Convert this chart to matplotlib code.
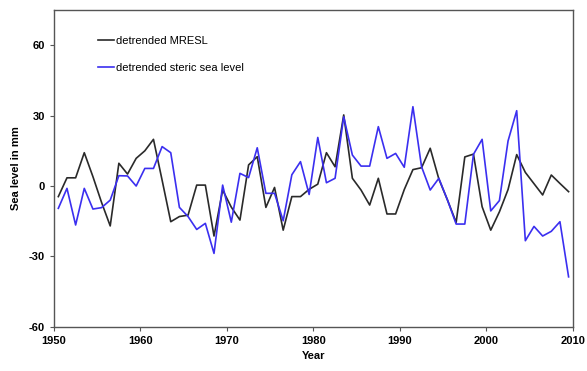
import numpy as np
import matplotlib.pyplot as plt

plt.rcParams['font.family'] = ['Liberation Sans', 'DejaVu Sans']
plt.rcParams['axes.unicode_minus'] = False

# Annual values plotted at mid-year, 1950.5 .. 2009.5
years = np.arange(1950, 2010) + 0.5

mresl = [-4.5, 3.5, 3.5, 14.2, 4.0, -7.0, -17.0, 9.7, 5.1, 11.8,
         15.0, 19.9, 2.5, -15.2, -13.0, -12.4, 0.4, 0.4, -21.3, -1.7,
         -9.0, -14.5, 9.0, 12.5, -9.1, -0.6, -18.8, -4.5, -4.5, -1.4,
         0.8, 14.2, 8.2, 30.3, 3.3, -1.7, -8.1, 3.3, -11.9, -11.9,
         -1.5, 7.0, 7.8, 16.1, 3.0, -6.0, -15.5, 12.4, 13.6, -8.8,
         -18.8, -11.0, -1.5, 13.4, 5.8, 1.0, -3.8, 4.7, 1.1, -2.4]

steric = [-9.5, -1.0, -16.6, -1.0, -9.8, -9.2, -6.0, 4.4, 4.3, 0.0,
          7.5, 7.5, 16.8, 14.2, -9.1, -13.0, -18.5, -15.9, -28.7, 0.4,
          -15.4, 5.4, 3.6, 16.3, -3.1, -3.1, -14.8, 4.8, 10.4, -3.6,
          20.7, 1.4, 3.3, 29.5, 13.2, 8.5, 8.5, 25.3, 11.8, 13.9,
          8.0, 33.8, 8.2, -1.7, 3.3, -6.0, -16.2, -16.2, 13.5, 19.9,
          -10.6, -6.2, 19.2, 32.1, -23.3, -17.2, -21.3, -19.3, -15.2, -38.7]

fig = plt.figure(figsize=(5.87, 3.71), dpi=100)
ax = fig.add_axes([0.092, 0.119, 0.884, 0.854])

ax.plot(years, mresl, color='#2a2a2a', lw=1.2, label='detrended MRESL')
ax.plot(years, steric, color='#3b2ff0', lw=1.2, label='detrended steric sea level')

ax.set_xlim(1950, 2010)
ax.set_ylim(-60, 75)
ax.set_xticks(range(1950, 2011, 10))
ax.set_yticks([-60, -30, 0, 30, 60])
ax.tick_params(labelsize=8, length=3, width=0.8, color='#555555')
for lab in ax.get_xticklabels() + ax.get_yticklabels():
    lab.set_fontweight('bold')
for sp in ax.spines.values():
    sp.set_color('#555555')
    sp.set_linewidth(1.0)

ax.set_xlabel('Year', fontsize=8, fontweight='bold', labelpad=4)
ax.set_ylabel('Sea level in mm', fontsize=8, fontweight='bold', labelpad=6)

ax.legend(loc='upper left', bbox_to_anchor=(0.075, 0.935), frameon=False,
          fontsize=8, handlelength=1.4, handletextpad=0.15, labelspacing=1.5,
          borderpad=0)

fig.savefig('out.png', dpi=100)
